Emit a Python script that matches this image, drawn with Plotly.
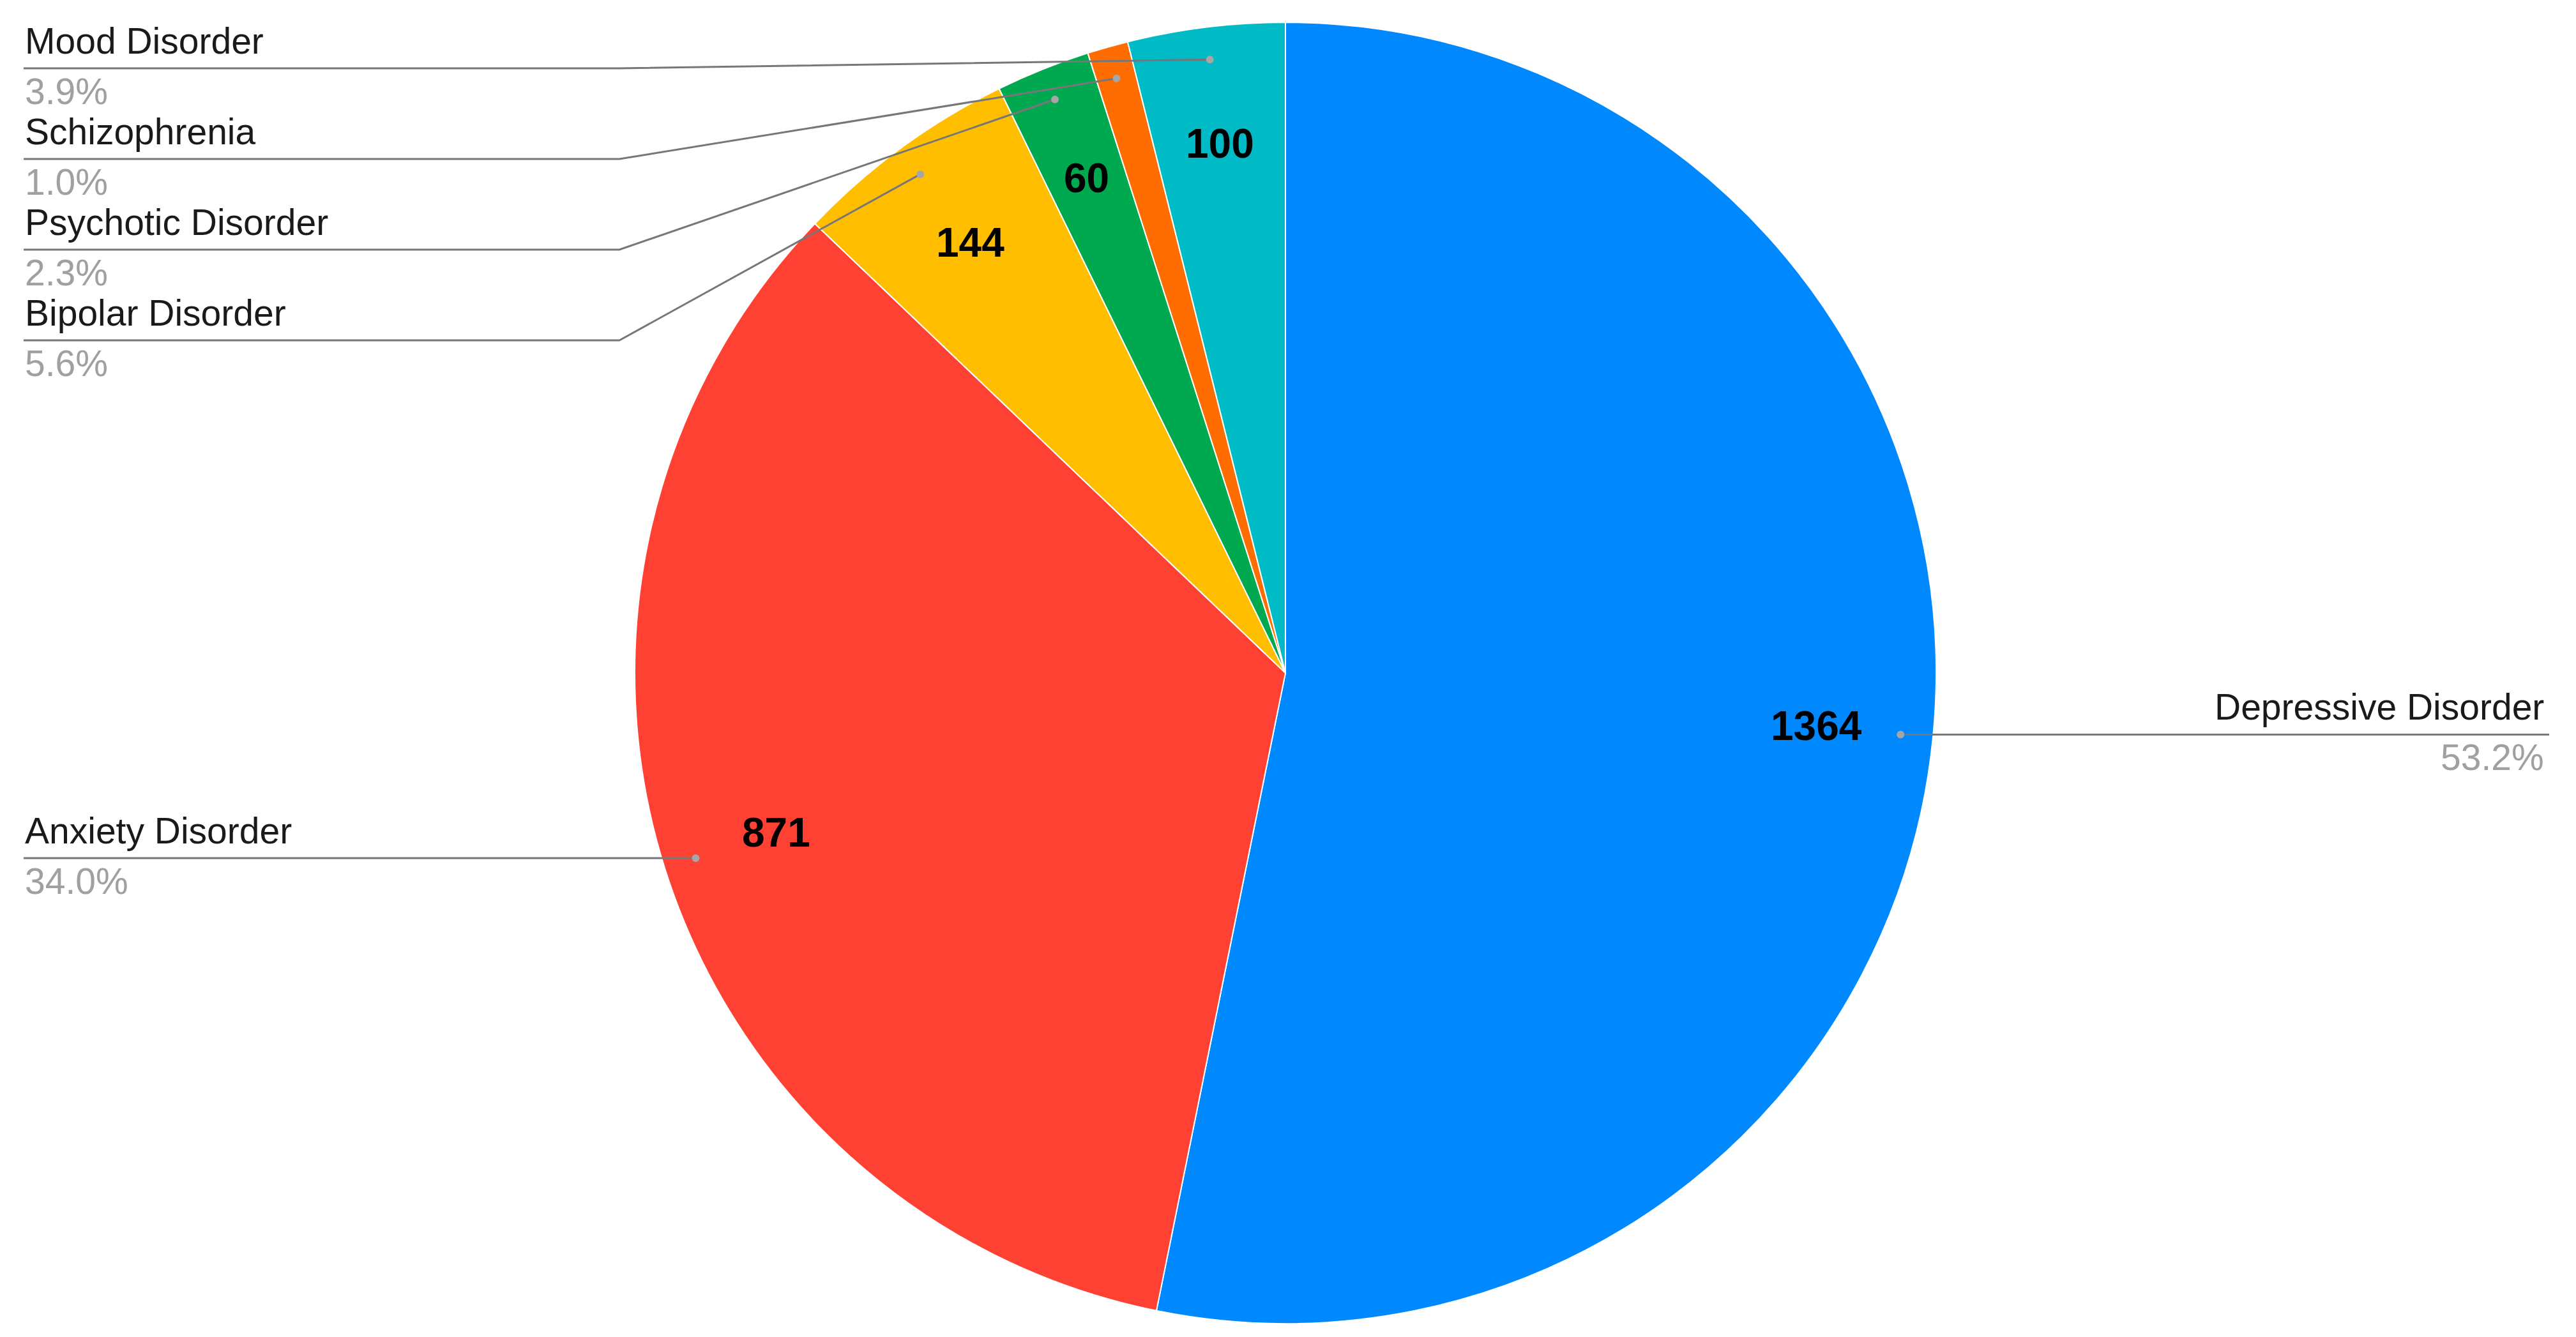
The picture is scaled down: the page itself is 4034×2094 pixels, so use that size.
import math
import plotly.graph_objects as go

# ---- data ----
categories = ["Depressive Disorder", "Anxiety Disorder", "Bipolar Disorder",
              "Psychotic Disorder", "Schizophrenia", "Mood Disorder"]
values = [1364, 871, 144, 60, 26, 100]
colors = ["#0088ff", "#ff4133", "#ffbf00", "#00a94f", "#ff6d00", "#00bac6"]

# ---- layout geometry (pixels) ----
W, H = 4034, 2094
CX, CY, R = 2013.0, 1054.0, 1019.0
FONT = "Arial, 'Liberation Sans', sans-serif"
LABEL_SIZE = 57
VALUE_SIZE = 64
LINE_COLOR = "#777777"
DOT_COLOR = "#a6a6a6"
PCT_COLOR = "#a0a0a0"
LEFT_X, RIGHT_X = 37, 3992
RIGHT_TEXT_X = 3986
LEFT_ELBOW, RIGHT_ELBOW = 970, 3050
STACK_GAP, TOP_MIN = 142, 107


def px(x):
    return x / W


def py(y):
    return 1 - y / H


total = sum(values)
fig = go.Figure(go.Pie(
    labels=categories, values=values, sort=False, direction="clockwise",
    rotation=0, marker=dict(colors=colors, line=dict(color="white", width=2)),
    textinfo="none", hoverinfo="label+value+percent", showlegend=False,
    domain=dict(x=[px(CX - R), px(CX + R)], y=[py(CY + R), py(CY - R)]),
))

annotations, shapes = [], []
cum = 0.0
items = []
for cat, v in zip(categories, values):
    frac = v / total
    mid = 2 * math.pi * (cum + frac / 2)
    cum += frac
    s, c = math.sin(mid), math.cos(mid)
    # value label inside slice
    if frac >= 0.015:
        annotations.append(dict(
            x=px(CX + 0.82 * R * s), y=py(CY - 0.82 * R * c), xref="paper", yref="paper",
            xanchor="center", yanchor="middle",
            text=f"<b>{v}</b>", showarrow=False,
            font=dict(family=FONT, size=VALUE_SIZE, color="black")))
    dx, dy = CX + 0.95 * R * s, CY - 0.95 * R * c
    items.append(dict(cat=cat, pct=frac * 100, dx=dx, dy=dy, side="L" if s < 0 else "R"))

for side in ("L", "R"):
    group = sorted([it for it in items if it["side"] == side], key=lambda d: d["dy"])
    prev = None
    for it in group:
        y = max(it["dy"], TOP_MIN) if prev is None else max(it["dy"], prev + STACK_GAP)
        prev = y
        if side == "L":
            ex, lx, tx, anchor = min(LEFT_ELBOW, it["dx"]), LEFT_X, LEFT_X, "left"
        else:
            ex, lx, tx, anchor = max(RIGHT_ELBOW, it["dx"]), RIGHT_X, RIGHT_TEXT_X, "right"
        path = (f"M {px(it['dx'])} {py(it['dy'])} L {px(ex)} {py(y)} L {px(lx)} {py(y)}")
        shapes.append(dict(type="path", path=path, xref="paper", yref="paper",
                           line=dict(color=LINE_COLOR, width=3)))
        rr = 6
        shapes.append(dict(type="circle", xref="paper", yref="paper",
                           x0=px(it["dx"] - rr), x1=px(it["dx"] + rr),
                           y0=py(it["dy"] + rr), y1=py(it["dy"] - rr),
                           fillcolor=DOT_COLOR, line=dict(width=0)))
        annotations.append(dict(
            x=px(tx), y=py(y), xref="paper", yref="paper", xanchor=anchor, yanchor="bottom",
            text=it["cat"], showarrow=False, yshift=9,
            font=dict(family=FONT, size=LABEL_SIZE, color="#1a1a1a")))
        annotations.append(dict(
            x=px(tx), y=py(y), xref="paper", yref="paper", xanchor=anchor, yanchor="top",
            text=f"{it['pct']:.1f}%", showarrow=False, yshift=-2,
            font=dict(family=FONT, size=LABEL_SIZE, color=PCT_COLOR)))

fig.update_layout(
    width=W, height=H, margin=dict(l=0, r=0, t=0, b=0),
    paper_bgcolor="white", plot_bgcolor="white",
    annotations=annotations, shapes=shapes,
)
fig.write_html("out.html", config={"displayModeBar": False},
               post_script="document.body.style.margin='0';")
